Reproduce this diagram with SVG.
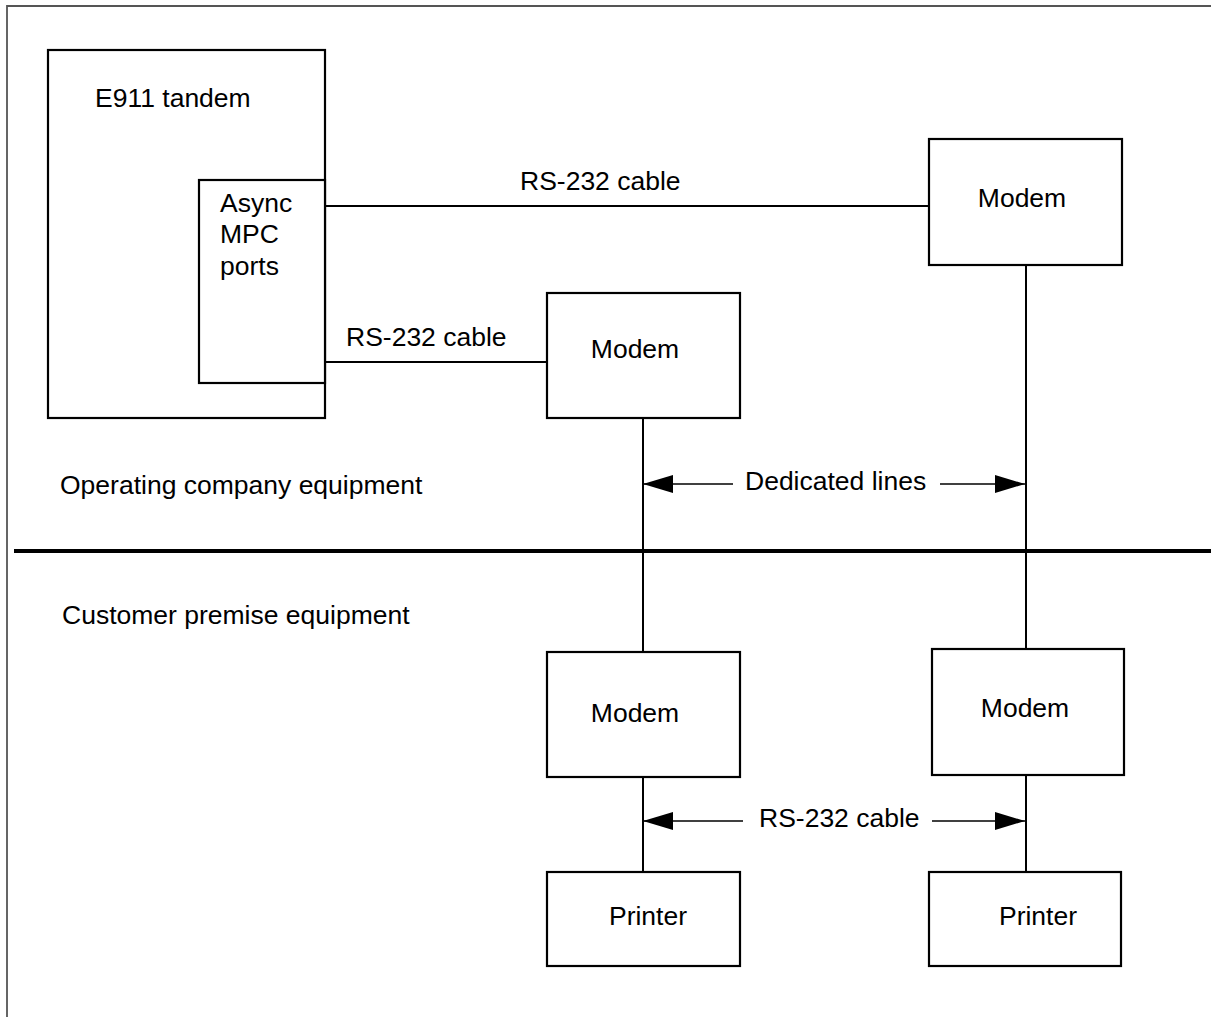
<svg xmlns="http://www.w3.org/2000/svg" width="1211" height="1017" viewBox="0 0 1211 1017">
<style>
.box{fill:#fff;stroke:#000;stroke-width:2.2}
.ln{stroke:#000;stroke-width:2;fill:none}
.thin{stroke:#000;stroke-width:1.3;fill:none}
.t{font-family:"Liberation Sans",Arial,sans-serif;font-size:26.5px;fill:#000}
.c{text-anchor:middle}
</style>
<defs>
<marker id="ah" viewBox="0 0 30 18" refX="30" refY="9" markerWidth="30" markerHeight="18" markerUnits="userSpaceOnUse" orient="auto">
<path d="M0,0 L30,9 L0,18 Z" fill="#000"/>
</marker>
</defs>
<rect width="1211" height="1017" fill="#fff"/>
<g id="frame">
<path d="M7,1017 V6 H1211" fill="none" stroke="#555" stroke-width="1.8"/>
</g>
<g id="divider">
<line x1="14" y1="551" x2="1211" y2="551" stroke="#000" stroke-width="3.8"/>
</g>
<g id="connectors">
<line class="ln" x1="325" y1="206" x2="929" y2="206"/>
<line class="ln" x1="325" y1="362" x2="547" y2="362"/>
<line class="ln" x1="643" y1="418" x2="643" y2="652"/>
<line class="ln" x1="1026" y1="265" x2="1026" y2="649"/>
<line class="ln" x1="643" y1="777" x2="643" y2="872"/>
<line class="ln" x1="1026" y1="775" x2="1026" y2="872"/>
<line class="thin" x1="733" y1="484" x2="643" y2="484" marker-end="url(#ah)"/>
<line class="thin" x1="940" y1="484" x2="1025" y2="484" marker-end="url(#ah)"/>
<line class="thin" x1="743" y1="821" x2="643" y2="821" marker-end="url(#ah)"/>
<line class="thin" x1="932" y1="821" x2="1025" y2="821" marker-end="url(#ah)"/>
<text class="t" x="520" y="190">RS-232 cable</text>
<text class="t" x="346" y="346">RS-232 cable</text>
<text class="t" x="745" y="490">Dedicated lines</text>
<text class="t" x="759" y="827">RS-232 cable</text>
</g>
<g id="e911">
<rect class="box" x="48" y="50" width="277" height="368"/>
<text class="t" x="95" y="107">E911 tandem</text>
</g>
<g id="async">
<rect class="box" x="199" y="180" width="126" height="203"/>
<text class="t" x="220" y="212">Async</text>
<text class="t" x="220" y="243">MPC</text>
<text class="t" x="220" y="275">ports</text>
</g>
<g id="modem1">
<rect class="box" x="929" y="139" width="193" height="126"/>
<text class="t c" x="1022" y="207">Modem</text>
</g>
<g id="modem2">
<rect class="box" x="547" y="293" width="193" height="125"/>
<text class="t c" x="635" y="358">Modem</text>
</g>
<g id="modem3">
<rect class="box" x="547" y="652" width="193" height="125"/>
<text class="t c" x="635" y="722">Modem</text>
</g>
<g id="modem4">
<rect class="box" x="932" y="649" width="192" height="126"/>
<text class="t c" x="1025" y="717">Modem</text>
</g>
<g id="printer1">
<rect class="box" x="547" y="872" width="193" height="94"/>
<text class="t c" x="648" y="925">Printer</text>
</g>
<g id="printer2">
<rect class="box" x="929" y="872" width="192" height="94"/>
<text class="t c" x="1038" y="925">Printer</text>
</g>
<g id="labels">
<text class="t" x="60" y="494">Operating company equipment</text>
<text class="t" x="62" y="624">Customer premise equipment</text>
</g>
</svg>
